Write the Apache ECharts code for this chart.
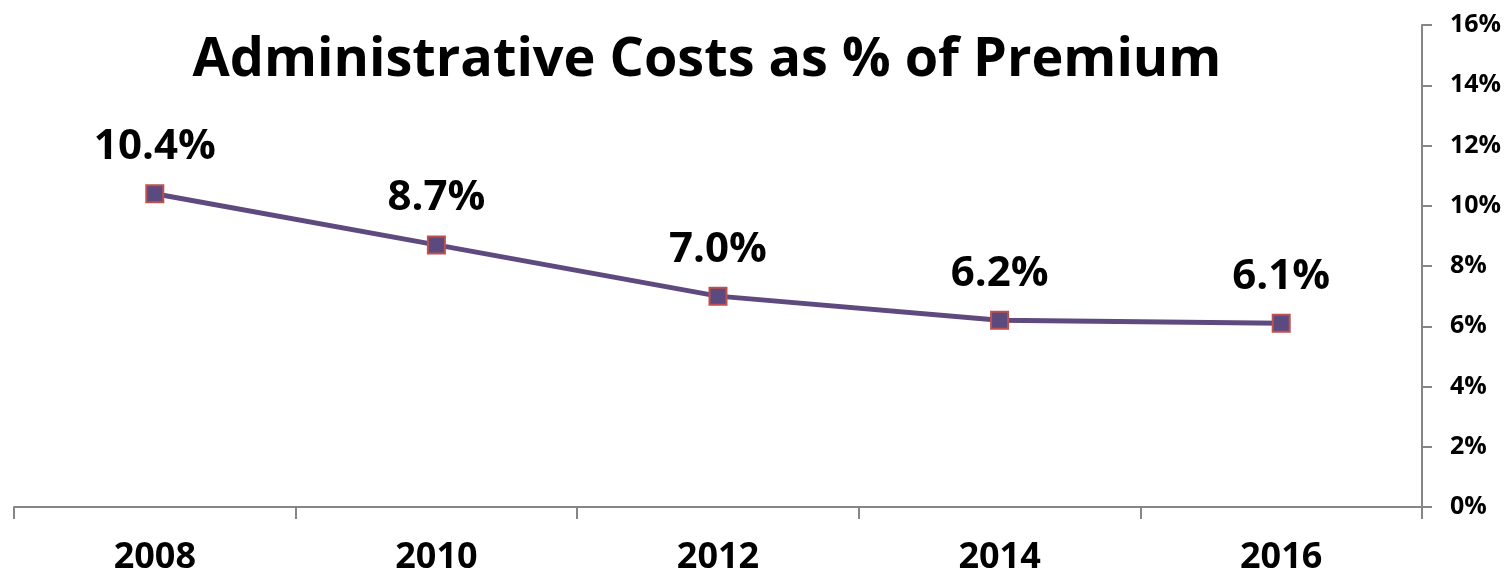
<!DOCTYPE html>
<html><head><meta charset="utf-8">
<script src="https://cdn.jsdelivr.net/npm/echarts@6/dist/echarts.min.js"></script>
<style>html,body{margin:0;padding:0;background:#fff}#c{width:1506px;height:576px}</style>
</head><body><div id="c"></div>
<script>
const titleText = 'Administrative Costs as % of Premium';
const categories = ['2008', '2010', '2012', '2014', '2016'];
const values = [10.4, 8.7, 7.0, 6.2, 6.1];
const yMin = 0, yMax = 16, yStep = 2;

const chart = echarts.init(document.getElementById('c'));
const font = '"Open Sans", "Noto Sans", sans-serif';
chart.setOption({
  animation: false,
  title: {
    text: titleText, left: 702, top: 29, textAlign: 'center',
    textStyle: {fontFamily: font, fontWeight: 'bold', fontSize: 54, color: '#000'}
  },
  grid: {left: 14, right: 84, top: 25, bottom: 69},
  xAxis: {
    type: 'category', data: categories, boundaryGap: true,
    axisLine: {lineStyle: {color: '#868686', width: 2}},
    axisTick: {show: true, length: 12, lineStyle: {color: '#868686', width: 2}},
    axisLabel: {margin: 33, fontFamily: font, fontWeight: 'bold', fontSize: 36, color: '#000'}
  },
  yAxis: {
    type: 'value', position: 'right', min: yMin, max: yMax, interval: yStep,
    splitLine: {show: false},
    axisLine: {show: true, lineStyle: {color: '#868686', width: 2}},
    axisTick: {show: true, inside: false, length: 10, lineStyle: {color: '#868686', width: 2}},
    axisLabel: {margin: 28, formatter: '{value}%', fontFamily: font, fontWeight: 'bold', fontSize: 25, color: '#000'}
  },
  series: [{
    type: 'line', data: values,
    symbol: 'rect', symbolSize: 17,
    lineStyle: {color: '#5E4A7E', width: 5},
    itemStyle: {color: '#5A4A80', borderColor: '#C0504D', borderWidth: 2},
    label: {
      show: true, position: 'top', distance: 16,
      formatter: p => p.value.toFixed(1) + '%',
      fontFamily: font, fontWeight: 'bold', fontSize: 42, color: '#000'
    }
  }]
});
</script></body></html>
